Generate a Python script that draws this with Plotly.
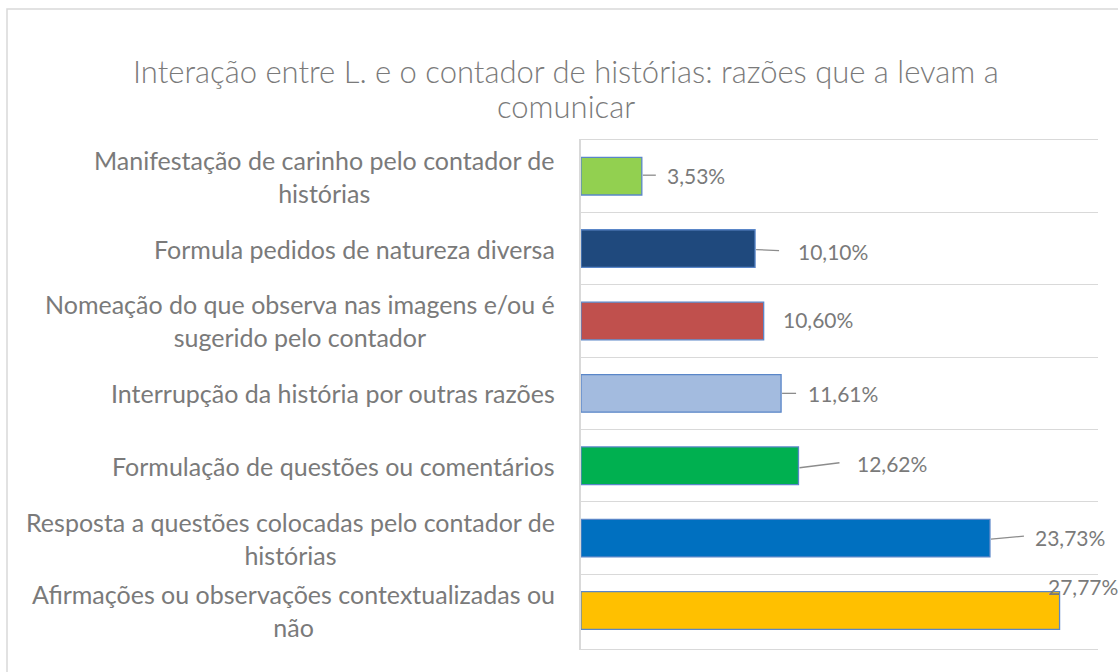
import plotly.graph_objects as go

# ---- data (top to bottom as displayed) ----
categories = [
    "Manifestação de carinho pelo contador de<br>histórias",
    "Formula pedidos de natureza diversa",
    "Nomeação do que observa nas imagens e/ou é<br>sugerido pelo contador",
    "Interrupção da história por outras razões",
    "Formulação de questões ou comentários",
    "Resposta a questões colocadas pelo contador de<br>histórias",
    "Afirmações ou observações contextualizadas ou<br>não",
]
values = [3.53, 10.10, 10.60, 11.61, 12.62, 23.73, 27.77]
value_labels = ["3,53%", "10,10%", "10,60%", "11,61%", "12,62%", "23,73%", "27,77%"]
title_lines = ["Interação entre L. e o contador de histórias: razões que a levam a", "comunicar"]

# ---- styles ----
bar_colors = ["#92D050", "#1F497D", "#C0504D", "#A3BBDF", "#00B050", "#0070C0", "#FFC000"]
label_xshift = [23, 41, 17, 25, 57, 43, -14]
label_yshift = [1, -3, 1, 0, 2, 1, 24]
# leader lines: (x0, x1, y0, y1) in px relative to bar end; None = no leader
leaders = [(1, 14, 1, 1), (1, 24, -1, -2), None, (1, 15, 0, 0),
           (1, 41, -2, 3), (1, 34, -1, 2), None]
title_centers_y = [71, 106]

W, H = 1118, 672
L, R, T, B = 581, 20, 140, 23
PW, PH = W - L - R, H - T - B
FONT = "Lato"
TXT = "#7A7A7A"

def px_x(p):
    return (p - L) / PW

def px_y(p):
    return (H - B - p) / PH

fig = go.Figure()
fig.add_trace(go.Bar(
    x=values, y=categories, orientation="h",
    marker=dict(color=bar_colors, line=dict(color="#5A86C8", width=1.3)),
    width=0.52, hoverinfo="skip",
))

annotations = []
shapes = []
for i, (cat, v, lab) in enumerate(zip(categories, values, value_labels)):
    annotations.append(dict(
        x=v, y=cat, xref="x", yref="y", text=lab, showarrow=False,
        xanchor="left", yanchor="middle", xshift=label_xshift[i], yshift=label_yshift[i],
        font=dict(family=FONT, size=21, color=TXT),
    ))
    annotations.append(dict(
        x=0, y=cat, xref="paper", yref="y", text=cat, showarrow=False,
        xanchor="right", yanchor="middle", align="center", xshift=-24,
        font=dict(family=FONT, size=25, color=TXT),
    ))
    if leaders[i] is not None:
        x0, x1, y0, y1 = leaders[i]
        shapes.append(dict(
            type="line", xref="x", yref="y",
            xsizemode="pixel", xanchor=v, x0=x0, x1=x1,
            ysizemode="pixel", yanchor=i, y0=y0, y1=y1,
            line=dict(color="#8C8C8C", width=1.3),
        ))

# title (two lines, Excel-like spacing)
for line, cy in zip(title_lines, title_centers_y):
    annotations.append(dict(
        x=px_x(566), y=px_y(cy), xref="paper", yref="paper", text=line,
        showarrow=False, xanchor="center", yanchor="middle",
        font=dict(family=FONT, size=31, color=TXT, weight=300),
    ))

# chart border
shapes.append(dict(
    type="rect", xref="paper", yref="paper",
    x0=px_x(7), x1=px_x(1130), y0=px_y(685), y1=px_y(9),
    line=dict(color="#D9D9D9", width=1.5), fillcolor="rgba(0,0,0,0)", layer="below",
))

fig.update_layout(
    width=W, height=H,
    margin=dict(l=L, r=R, t=T, b=B),
    paper_bgcolor="white", plot_bgcolor="white",
    showlegend=False,
    xaxis=dict(range=[0, 30], showgrid=False, zeroline=False, showticklabels=False,
               ticks="", showline=True, linecolor="#D9D9D9", linewidth=1.3, mirror=True),
    yaxis=dict(autorange="reversed", type="category", tickson="boundaries",
               showgrid=True, gridcolor="#D9D9D9", gridwidth=1.3,
               showticklabels=False, ticks="", showline=True,
               linecolor="#D9D9D9", linewidth=1.5),
    annotations=annotations,
    shapes=shapes,
)

fig.write_html("out.html", config={"displayModeBar": False},
               post_script="document.body.style.margin='0';")
